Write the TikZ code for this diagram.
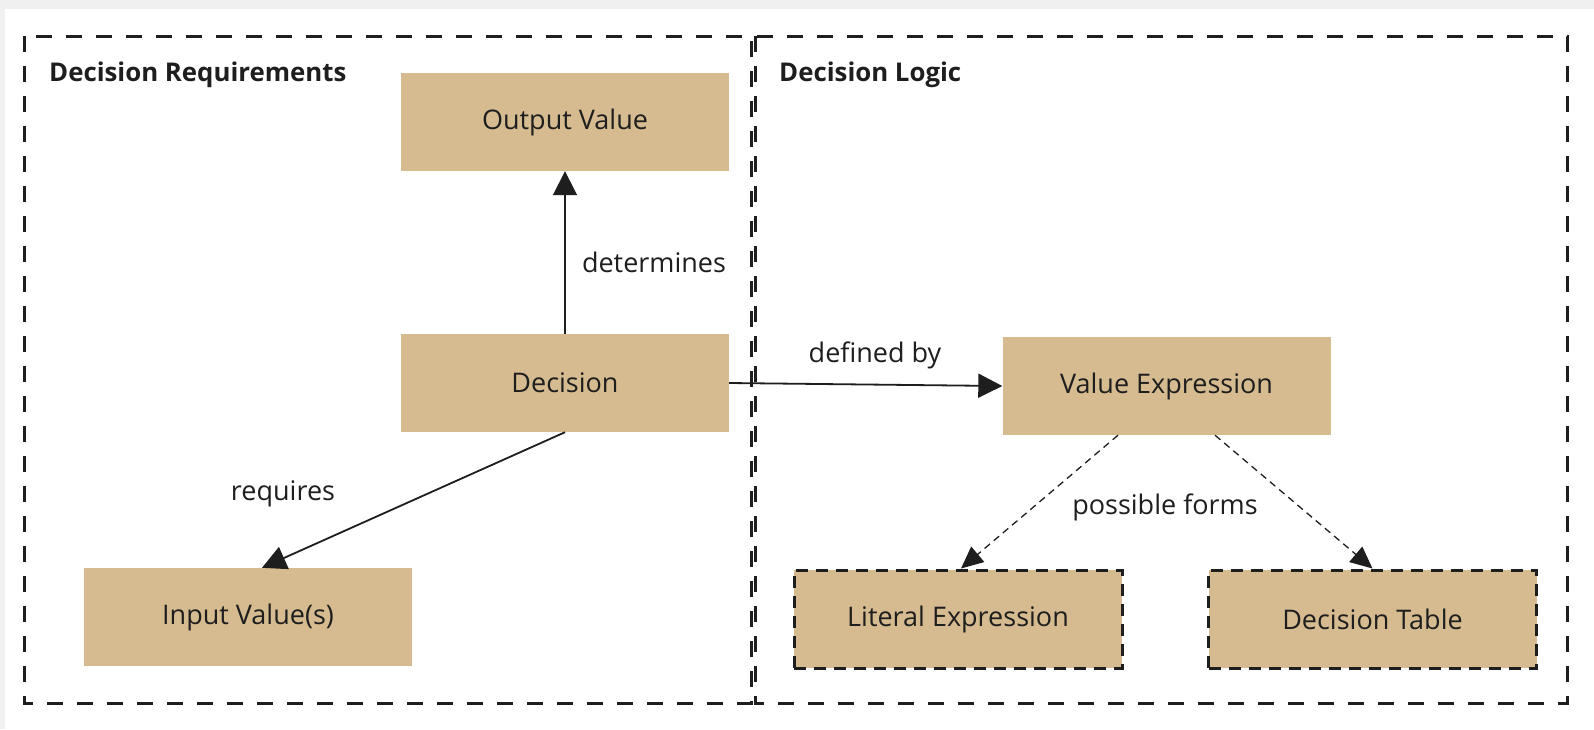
\documentclass[tikz,border=0pt]{standalone}
\usepackage{fontspec}
\setmainfont{Open Sans}
\usetikzlibrary{arrows.meta}
\definecolor{tanbox}{HTML}{D5BB8F}
\definecolor{ink}{HTML}{1E1E1E}
\definecolor{pagegray}{HTML}{F0F0F0}
\tikzset{
  box/.style={fill=tanbox, minimum width=328pt, minimum height=98pt, inner sep=0pt, text=ink, font=\fontsize{27}{32}\selectfont},
  dashbox/.style={box, draw=ink, line width=3pt, dash pattern=on 12pt off 8pt},
  frame/.style={draw=ink, line width=3pt, dash pattern=on 16pt off 14pt},
  title/.style={anchor=west, inner sep=0pt, text=ink, font=\fontsize{25.8}{30}\selectfont\bfseries},
  lbl/.style={inner sep=0pt, text=ink, font=\fontsize{27}{32}\selectfont},
  arr/.style={draw=ink, line width=1.8pt, -{Triangle[length=24pt,width=24pt]}},
  darr/.style={draw=ink, line width=1.3pt, dash pattern=on 7pt off 5pt, -{Triangle[length=22pt,width=20pt]}},
}
\begin{document}
\begin{tikzpicture}[x=1pt,y=-1pt]
\useasboundingbox (0,0) rectangle (1594,729);
\fill[pagegray] (0,0) rectangle (1594,729);
\fill[white] (5,9) rectangle (1594,729);
% frames
\draw[frame] (24,36) rectangle (751,703);
\draw[frame] (755,36) rectangle (1567,703);
\node[title] (t1) at (49,75) {Decision Requirements};
\node[title] (t2) at (779,75) {Decision Logic};
% boxes
\node[box] (out) at (565,122) {Output Value};
\node[box] (dec) at (565,383) {Decision};
\node[box] (inp) at (248,617) {Input Value(s)};
\node[box] (ve) at (1166.5,386) {Value Expression};
\node[dashbox] (lit) at (958,619) {Literal Expression};
\node[dashbox] (dt) at (1372.5,619) {Decision Table};
% connectors
\draw[arr] (dec.north) -- (out.south);
\draw[arr] (dec.south) -- ([xshift=14pt]inp.north);
\draw[arr] (dec.east) -- (ve.west);
\draw[darr] ([xshift=-48.5pt]ve.south) -- ([xshift=3pt]lit.north);
\draw[darr] ([xshift=48.5pt]ve.south) -- (dt.north);
% labels
\node[lbl] (l1) at (654,262) {determines};
\node[lbl] (l2) at (283,494) {requires};
\node[lbl] (l3) at (875,355) {defined by};
\node[lbl] (l4) at (1165,507) {possible forms};
\end{tikzpicture}
\end{document}
